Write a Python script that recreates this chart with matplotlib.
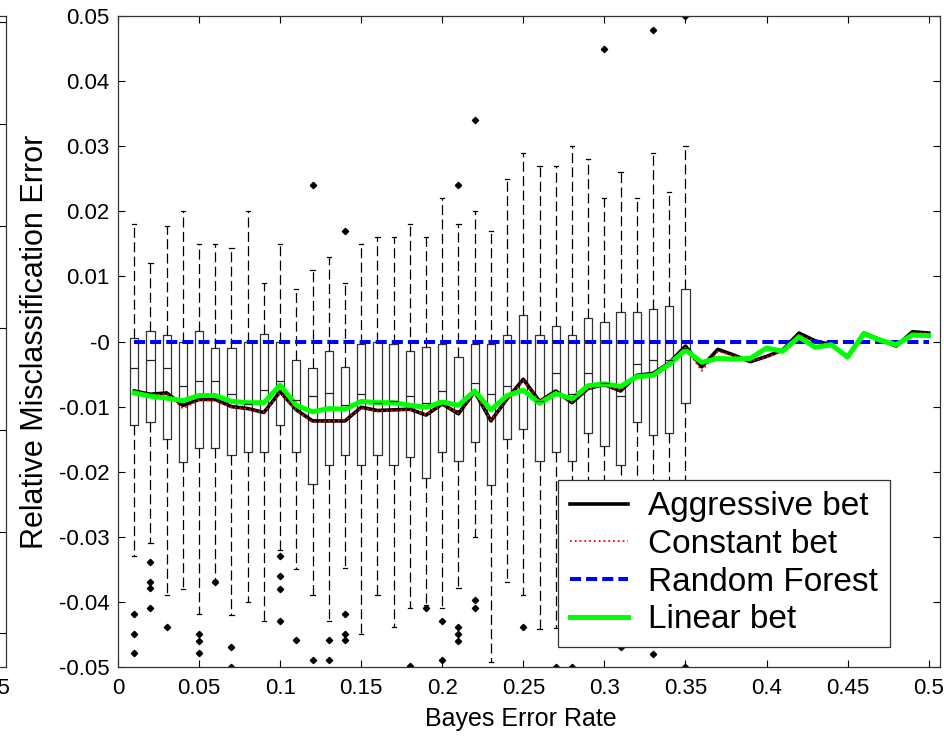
import numpy as np
import matplotlib
matplotlib.use("Agg")
import matplotlib.pyplot as plt
from matplotlib.ticker import FuncFormatter, MultipleLocator

plt.rcParams['font.family'] = ['Liberation Sans', 'DejaVu Sans']
plt.rcParams['axes.unicode_minus'] = False

# boxplot summaries, one per Bayes error rate 0.01 .. 0.35
box_rates = [round(0.01 * i, 2) for i in range(1, 36)]
whishi = [0.0180, 0.0120, 0.0178, 0.0200, 0.0150, 0.0150, 0.0143, 0.0200, 0.0090, 0.0150,
          0.0080, 0.0110, 0.0130, 0.0090, 0.0150, 0.0161, 0.0161, 0.0180, 0.0160, 0.0221,
          0.0180, 0.0201, 0.0170, 0.0250, 0.0290, 0.0270, 0.0270, 0.0300, 0.0280, 0.0221,
          0.0260, 0.0221, 0.0290, 0.0230, 0.0300]
q3 = [0.0005, 0.0016, 0.0010, 0.0000, 0.0016, -0.0010, -0.0010, 0.0000, 0.0011, 0.0000,
      -0.0029, -0.0040, -0.0015, -0.0039, -0.0004, 0.0000, -0.0004, -0.0015, -0.0009, -0.0004,
      -0.0024, -0.0004, -0.0004, 0.0010, 0.0041, 0.0010, 0.0024, 0.0010, 0.0036, 0.0030,
      0.0045, 0.0045, 0.0050, 0.0055, 0.0081]
med = [-0.0040, -0.0029, -0.0040, -0.0069, -0.0060, -0.0060, -0.0080, -0.0096, -0.0075, -0.0060,
       -0.0090, -0.0083, -0.0079, -0.0098, -0.0080, -0.0095, -0.0092, -0.0084, -0.0095, -0.0076,
       -0.0105, -0.0064, -0.0081, -0.0069, -0.0060, -0.0092, -0.0049, -0.0081, -0.0049, -0.0064,
       -0.0084, -0.0035, -0.0028, -0.0029, -0.0010]
q1 = [-0.0129, -0.0124, -0.0150, -0.0185, -0.0164, -0.0164, -0.0174, -0.0170, -0.0170, -0.0128,
      -0.0170, -0.0219, -0.0189, -0.0174, -0.0189, -0.0174, -0.0189, -0.0178, -0.0209, -0.0169,
      -0.0184, -0.0155, -0.0220, -0.0150, -0.0135, -0.0184, -0.0169, -0.0184, -0.0140, -0.0161,
      -0.0190, -0.0124, -0.0144, -0.0140, -0.0095]
whislo = [-0.0329, -0.0310, -0.0389, -0.0380, -0.0419, -0.0367, -0.0420, -0.0400, -0.0429, -0.0320,
          -0.0349, -0.0389, -0.0429, -0.0348, -0.0449, -0.0389, -0.0439, -0.0409, -0.0405, -0.0409,
          -0.0379, -0.0300, -0.0493, -0.0369, -0.0389, -0.0441, -0.0440, -0.0460, -0.0400, -0.0420,
          -0.0440, -0.0380, -0.0420, -0.0360, -0.0460]
outliers = [
    [-0.0418, -0.0449, -0.0478], [-0.0338, -0.0369, -0.0378, -0.0409], [-0.0439], [],
    [-0.0449, -0.0460, -0.0478], [-0.0369], [-0.0469, -0.0500], [], [],
    [-0.0329, -0.0360, -0.0380, -0.0429], [-0.0459], [0.0241, -0.0489], [-0.0459, -0.0489],
    [0.0170, -0.0418, -0.0449, -0.0458], [], [], [], [-0.0498], [-0.0410], [-0.0429, -0.0489],
    [0.0241, -0.0438, -0.0449, -0.0460], [0.0341, -0.0397, -0.0409], [], [], [-0.0439], [],
    [-0.0500], [-0.0500], [], [0.0450], [-0.0470], [], [0.0479, -0.0480], [], [0.0500, -0.0500],
]

# mean curves, Bayes error rate 0.01 .. 0.50
rates = [round(0.01 * i, 2) for i in range(1, 51)]
aggressive = [-0.0076, -0.0081, -0.0079, -0.0098, -0.0089, -0.0089, -0.0100, -0.0103, -0.0109, -0.0077,
              -0.0105, -0.0122, -0.0122, -0.0122, -0.0101, -0.0106, -0.0105, -0.0104, -0.0113, -0.0096,
              -0.0111, -0.0077, -0.0122, -0.0088, -0.0058, -0.0092, -0.0076, -0.0094, -0.0072, -0.0066,
              -0.0076, -0.0052, -0.0049, -0.0033, -0.0007, -0.0039, -0.0012, -0.0021, -0.0031, -0.0023,
              -0.0013, 0.0013, 0.0001, -0.0005, -0.0023, 0.0013, 0.0003, -0.0007, 0.0015, 0.0013]
constant = [-0.0079, -0.0083, -0.0080, -0.0103, -0.0090, -0.0091, -0.0101, -0.0104, -0.0109, -0.0079,
            -0.0106, -0.0124, -0.0122, -0.0121, -0.0102, -0.0107, -0.0106, -0.0105, -0.0112, -0.0097,
            -0.0110, -0.0079, -0.0121, -0.0089, -0.0060, -0.0091, -0.0078, -0.0093, -0.0073, -0.0068,
            -0.0075, -0.0053, -0.0050, -0.0035, -0.0010, -0.0045, -0.0015, -0.0022, -0.0030, -0.0024,
            -0.0014, 0.0011, 0.0000, -0.0006, -0.0022, 0.0011, 0.0003, -0.0006, 0.0012, 0.0013]
random_forest = [0.0] * 50
linear = [-0.0079, -0.0084, -0.0087, -0.0091, -0.0083, -0.0083, -0.0092, -0.0094, -0.0094, -0.0067,
          -0.0098, -0.0108, -0.0103, -0.0104, -0.0092, -0.0094, -0.0094, -0.0098, -0.0101, -0.0093,
          -0.0098, -0.0076, -0.0105, -0.0083, -0.0075, -0.0095, -0.0080, -0.0088, -0.0068, -0.0065,
          -0.0069, -0.0054, -0.0052, -0.0035, -0.0013, -0.0032, -0.0026, -0.0027, -0.0026, -0.0010,
          -0.0015, 0.0007, -0.0009, -0.0005, -0.0024, 0.0012, 0.0002, -0.0005, 0.0010, 0.0009]

W, H = 944, 736
fig = plt.figure(figsize=(W / 100, H / 100), dpi=100)
ax_l, ax_r, ax_t, ax_b = 118, 940, 16, 667
pos = [ax_l / W, 1 - ax_b / H, (ax_r - ax_l) / W, (ax_b - ax_t) / H]

# neighbouring panel, only its right edge shows
ax0 = fig.add_axes([(6 - (ax_r - ax_l)) / W, pos[1], pos[2], pos[3]])
ax0.set_xlim(0, 0.507)
ax0.set_ylim(-0.333, 0.306)
ax0.xaxis.set_major_locator(MultipleLocator(0.5))
ax0.xaxis.set_major_formatter(FuncFormatter(lambda v, p: f"{v:g}"))
ax0.yaxis.set_major_locator(MultipleLocator(0.1))
ax0.tick_params(direction='in', length=5, width=0.8, right=True, labelleft=False,
                labelsize=16, pad=8)
for s in ax0.spines.values():
    s.set_color('#333333')
    s.set_linewidth(0.9)

ax = fig.add_axes(pos)
stats = [dict(med=m, q1=a, q3=b, whislo=lo, whishi=hi, fliers=f)
         for m, a, b, lo, hi, f in zip(med, q1, q3, whislo, whishi, outliers)]
ax.bxp(stats, positions=box_rates, widths=0.0051, capwidths=0.0026, manage_ticks=False,
       boxprops=dict(color='#333333', lw=0.9),
       whiskerprops=dict(color='black', lw=0.9, linestyle=(0, (8, 3.5))),
       capprops=dict(color='black', lw=0.9),
       medianprops=dict(color='#222222', lw=0.9),
       flierprops=dict(marker='D', markersize=3.2, markerfacecolor='black',
                       markeredgecolor='black'))

ax.plot(rates, aggressive, color='black', lw=2.6, label='Aggressive bet')
ax.plot(rates, constant, color='red', lw=1.3, ls=':', label='Constant bet')
ax.plot(rates, random_forest, color='#0000ff', lw=2.9, ls=(0, (2.75, 1.25)),
        label='Random Forest')
ax.plot(rates, linear, color='#00ff00', lw=3.6, label='Linear bet')

ax.set_xlim(0, 0.507)
ax.set_ylim(-0.05, 0.05)
ax.xaxis.set_major_locator(MultipleLocator(0.05))
ax.yaxis.set_major_locator(MultipleLocator(0.01))
fmt = FuncFormatter(lambda v, p: f"{round(v, 4):g}")
ax.xaxis.set_major_formatter(fmt)
ax.yaxis.set_major_formatter(fmt)
ax.tick_params(direction='in', length=5, width=0.8, top=True, right=True, labelsize=16)
ax.tick_params(axis='x', pad=8)
ax.tick_params(axis='y', pad=6)
for s in ax.spines.values():
    s.set_color('#333333')
    s.set_linewidth(0.9)

ax.set_xlabel('Bayes Error Rate', fontsize=18)
ax.set_ylabel('Relative Misclassification Error', fontsize=22)
ax.xaxis.set_label_coords(0.49, -0.062)
ax.yaxis.set_label_coords(-0.083, 0.5)

leg = ax.legend(loc='lower left', bbox_to_anchor=((558 - ax_l) / (ax_r - ax_l), 20 / (ax_b - ax_t)),
                borderaxespad=0, fontsize=24, labelspacing=0.2, handlelength=1.75,
                handletextpad=0.6, borderpad=0.35, fancybox=False, framealpha=1)
leg.get_frame().set_edgecolor('#333333')
leg.get_frame().set_linewidth(0.9)

fig.savefig('out.png', dpi=100)
